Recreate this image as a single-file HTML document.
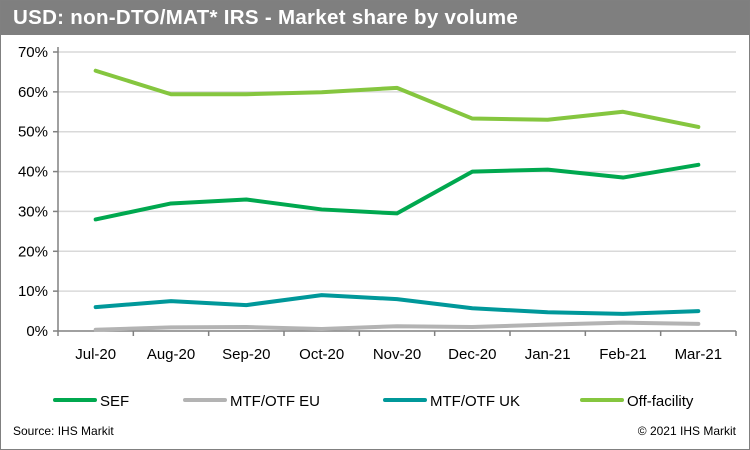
<!DOCTYPE html>
<html><head><meta charset="utf-8"><style>
body{margin:0;background:#fff;font-family:"Liberation Sans",Arial,sans-serif;}
#wrap{position:relative;width:748px;height:448px;border:1px solid #808080;overflow:hidden;}
#title{position:absolute;left:0;top:0;width:748px;height:34px;background:#7f7f7f;color:#fff;font-weight:bold;font-size:20.5px;line-height:34px;padding-left:12px;box-sizing:border-box;letter-spacing:0.3px;}
</style></head><body>
<div id="wrap">
<div id="title">USD: non-DTO/MAT* IRS - Market share by volume</div>
<svg id="svg" width="750" height="450" style="position:absolute;left:-1px;top:-1px"></svg>
</div>
<script>
const categories=["Jul-20","Aug-20","Sep-20","Oct-20","Nov-20","Dec-20","Jan-21","Feb-21","Mar-21"];
const yTicks=[0,10,20,30,40,50,60,70];
const sef=[28,32,33,30.5,29.5,40,40.5,38.5,41.7];
const eu=[0.3,0.9,1.0,0.5,1.2,1.0,1.6,2.1,1.8];
const uk=[6,7.5,6.5,9,8,5.7,4.7,4.3,5];
const offf=[65.3,59.4,59.4,59.9,61,53.3,53,55,51.2];
const seriesNames=["SEF","MTF/OTF EU","MTF/OTF UK","Off-facility"];
const seriesColors=["#00a84f","#b3b3b3","#00989a","#85c63f"];
const seriesData=[sef,eu,uk,offf];
const NS="http://www.w3.org/2000/svg";
const svg=document.getElementById('svg');
const X0=58,X1=736,Y0=331,Y70=52;
const band=(X1-X0)/categories.length;
const xs=i=>X0+band*(i+0.5);
const ys=v=>Y0-(v/70)*(Y0-Y70);
function mk(t,a){const e=document.createElementNS(NS,t);for(const k in a)e.setAttribute(k,a[k]);svg.appendChild(e);return e;}
yTicks.forEach(v=>{
 if(v>0){const g=mk('line',{x1:X0,x2:X1,y1:ys(v),y2:ys(v),stroke:'#d9d9d9','stroke-width':1.5});
 
 }
 const t=mk('line',{x1:X0-5,x2:X0,y1:ys(v),y2:ys(v),stroke:'#808080','stroke-width':1.5});
 
 
 const l=mk('text',{x:X0-10,y:ys(v)+5,'text-anchor':'end','font-size':15,fill:'#000'});
 l.textContent=v+'%';
 
 
});
const ax=mk('line',{x1:X0,x2:X0,y1:Y70-5,y2:Y0,stroke:'#808080','stroke-width':1.5});


const xa=mk('line',{x1:X0,x2:X1,y1:Y0,y2:Y0,stroke:'#808080','stroke-width':1.5});


for(let i=0;i<=categories.length;i++){
 const t=mk('line',{x1:X0+band*i,x2:X0+band*i,y1:Y0,y2:Y0+5,stroke:'#808080','stroke-width':1.5});
 
 
}
categories.forEach((c,i)=>{
 const l=mk('text',{x:xs(i),y:Y0+28,'text-anchor':'middle','font-size':15,fill:'#000'});
 l.textContent=c;
 
 
});
[1,2,0,3].forEach(s=>{
 const p=mk('polyline',{points:seriesData[s].map((v,i)=>xs(i)+','+ys(v)).join(' '),fill:'none',stroke:seriesColors[s],'stroke-width':4,'stroke-linejoin':'round','stroke-linecap':'round'});
 
 
});
const legX=[55,185,385,582];
seriesNames.forEach((n,s)=>{
 const ln=mk('line',{x1:legX[s],x2:legX[s]+40,y1:400,y2:400,stroke:seriesColors[s],'stroke-width':4,'stroke-linecap':'round'});
 
 
 const t=mk('text',{x:legX[s]+45,y:406,'font-size':15,fill:'#000'});
 t.textContent=n;
 
 
});
const src=mk('text',{x:13,y:435,'font-size':12,fill:'#000'});
src.textContent='Source: IHS Markit';


const cp=mk('text',{x:736,y:435,'font-size':12,fill:'#000','text-anchor':'end'});
cp.textContent='© 2021 IHS Markit';


</script>
</body></html>
